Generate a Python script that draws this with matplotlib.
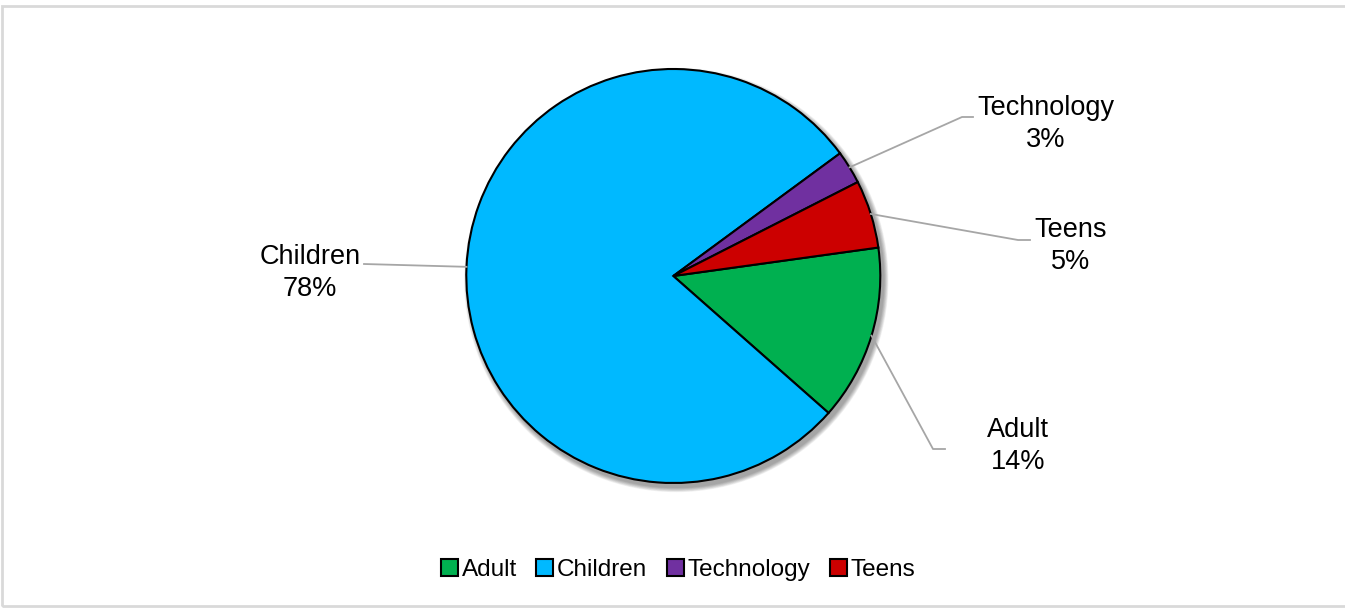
import numpy as np
import matplotlib.pyplot as plt
from matplotlib.patches import Circle, Rectangle

plt.rcParams['font.family'] = ['Liberation Sans', 'DejaVu Sans']

# data
categories = ['Adult', 'Children', 'Technology', 'Teens']
shares = [13.7, 78.4, 2.6, 5.3]
colors = ['#00B050', '#00B9FF', '#7030A0', '#CC0000']

# layout in pixels measured from the top-left (figure is 1345x608)
W, H = 1345, 608
cx, cy, R = 673.3, 276, 207
start = 7.9
# elbow of leader line, end of short horizontal, text centre
label_layout = {
    'Adult': ((933, 449), (945, 449), (1018, 446)),
    'Children': ((466, 264), (364, 264), (310, 273)),
    'Technology': ((962, 117), (973, 117), (1046, 124)),
    'Teens': ((1018, 240), (1030, 240), (1071, 246)),
}


def flip(y):
    return H - y


fig = plt.figure(figsize=(W / 100, H / 100), dpi=100)
ax = fig.add_axes([0, 0, 1, 1])

# soft shadow under the pie
for k in range(8):
    ax.add_patch(Circle((cx + 3, flip(cy + 4)), R + 1 + k * 0.6, color='black',
                        alpha=0.05, lw=0, zorder=1))

wedges, _ = ax.pie(shares, colors=colors, startangle=start, counterclock=False,
                   center=(cx, flip(cy)), radius=R, frame=True,
                   wedgeprops=dict(edgecolor='black', linewidth=1.5))
for w in wedges:
    w.set_zorder(2)
ax.set_xlim(0, W)
ax.set_ylim(0, H)
ax.set_aspect('auto')
ax.axis('off')

total = sum(shares)
for w, name, val in zip(wedges, categories, shares):
    mid = np.deg2rad((w.theta1 + w.theta2) / 2)
    px, py = cx + R * np.cos(mid), flip(cy) + R * np.sin(mid)
    elbow, end, txt = label_layout[name]
    if name == 'Children':
        xs, ys = [px, end[0]], [py, flip(end[1])]
    else:
        xs, ys = [px, elbow[0], end[0]], [py, flip(elbow[1]), flip(end[1])]
    ax.plot(xs, ys, color='#A6A6A6', lw=1.3, zorder=3)
    ax.text(txt[0], flip(txt[1]), f'{name}\n{round(val / total * 100):.0f}%',
            ha='center', va='center', fontsize=19.5, linespacing=1.3,
            color='black', zorder=4)

leg = ax.legend(wedges, categories, loc='center',
                bbox_to_anchor=(678 / W, 1 - 570 / H),
                ncol=4, frameon=False, fontsize=17.5, handlelength=0.7,
                handleheight=0.7, handletextpad=0.15, columnspacing=0.8,
                borderpad=0)
for h in leg.legend_handles:
    h.set_linewidth(1.5)

# light frame around the chart area
ax.add_patch(Rectangle((2, flip(606)), W + 10, 600, fill=False,
                       edgecolor='#D9D9D9', lw=2, zorder=0))

fig.savefig('out.png', dpi=100)
